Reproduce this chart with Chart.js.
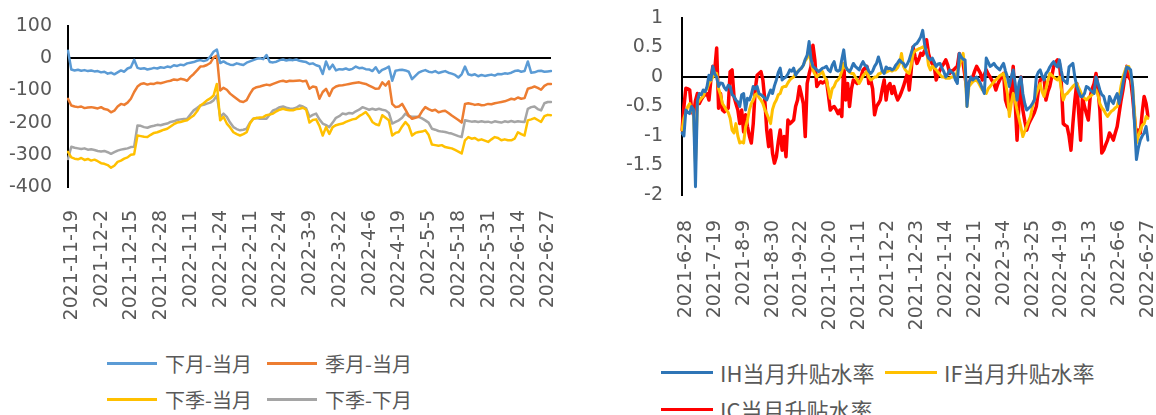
<!DOCTYPE html>
<html>
<head>
<meta charset="utf-8">
<script src="https://cdn.jsdelivr.net/npm/chart.js@4.4.1/dist/chart.umd.min.js"></script>
<style>
  body { margin: 0; width: 1156px; height: 415px; overflow: hidden; background: #fff; position: relative; }
  #left { position: absolute; left: 0; top: 0; }
  #right { position: absolute; left: 580px; top: 0; }
  .key { position: absolute; height: 30px; display: flex; align-items: center; color: #595959;
         white-space: nowrap; font-family: "Noto Sans CJK SC", sans-serif; }
  .key i { display: inline-block; height: 3px; }
</style>
</head>
<body>
<canvas id="left" width="600" height="330"></canvas>
<canvas id="right" width="576" height="330"></canvas>
<script>
// exchange holidays that fall on weekdays (used to build the trading-day categories)
const holidays = ['2021-9-20', '2021-9-21', '2021-10-1', '2021-10-4', '2021-10-5', '2021-10-6', '2021-10-7',
  '2022-1-3', '2022-1-31', '2022-2-1', '2022-2-2', '2022-2-3', '2022-2-4',
  '2022-4-4', '2022-4-5', '2022-5-2', '2022-5-3', '2022-5-4', '2022-6-3'];
// a day missing from the right-hand series
const missingDays = ['2021-11-1'];
const leftStart = '2021-11-19';
const rightStart = '2021-06-28';

// left chart: spreads
const nextMinusCur = [
  23, -35, -38, -36, -39, -37, -40, -38, -41, -40,
  -44, -42, -48, -45, -50, -44, -38, -42, -32, -28,
  -5, -30, -33, -31, -35, -33, -30, -32, -28, -30,
  -26, -28, -22, -24, -20, -22, -16, -14, -12, -8,
  -6, -9, -6, 5, 20, 27, -15, -10, -16, -20,
  -21, -16, -19, -21, -14, -10, -6, -2, 0, -3,
  10, -12, -13, -11, -6, -4, -7, -5, -6, -4,
  -8, -10, -12, -18, -16, -22, -25, -49, -10, -34,
  -20, -38, -34, -35, -32, -36, -33, -26, -31, -30,
  -34, -35, -40, -28, -45, -36, -32, -26, -70, -39,
  -37, -36, -38, -42, -65, -55, -45, -40, -37, -42,
  -44, -40, -46, -43, -40, -45, -48, -52, -60, -50,
  -26, -50, -53, -50, -56, -52, -55, -53, -51, -54,
  -49, -50, -47, -48, -45, -40, -38, -42, -40, -10,
  -45, -44, -40, -39, -42, -41, -40
];
const seasonMinusCur = [
  -126, -147, -150, -152, -150, -155, -153, -152, -154, -156,
  -152, -158, -160, -168, -163, -150, -142, -145, -138, -126,
  -105, -88, -80, -78, -82, -79, -80, -76, -78, -75,
  -72, -70, -66, -68, -64, -66, -70, -58, -49, -38,
  -26, -25, -21, -15, 2, 8, -100, -92, -98, -110,
  -118, -126, -134, -136, -130, -111, -95, -90, -88, -85,
  -82, -84, -80, -76, -72, -70, -73, -70, -71, -70,
  -69, -72, -70, -95, -88, -90, -126, -105, -95, -117,
  -95, -88, -85, -84, -82, -80, -78, -76, -75, -78,
  -80, -85, -90, -95, -94, -75, -85, -72, -142, -152,
  -150, -142, -160, -178, -188, -185, -182, -165, -152, -158,
  -163, -160, -168, -165, -163, -170, -178, -185, -192, -200,
  -142, -140, -142, -145, -143, -146, -145, -142, -143, -140,
  -138, -136, -134, -130, -126, -128, -122, -126, -124, -95,
  -92, -88, -92, -98, -86, -80, -80
];
const farMinusCur = [
  -291, -308, -312, -314, -310, -316, -313, -318, -315, -320,
  -326, -328, -332, -340, -334, -322, -318, -312, -308, -300,
  -298, -240, -242, -244, -245, -238, -232, -230, -226, -222,
  -219, -212, -205, -200, -198, -195, -193, -185, -178, -165,
  -147, -140, -131, -125, -116, -80, -193, -182, -203, -215,
  -230, -236, -240, -236, -230, -203, -188, -186, -184, -183,
  -177, -175, -172, -165, -160, -157, -160, -162, -162, -158,
  -157, -154, -160, -200, -192, -190, -210, -240, -214, -235,
  -214, -208, -205, -203, -198, -194, -190, -188, -180, -174,
  -167, -180, -198, -205, -208, -177, -185, -193, -240, -232,
  -229, -212, -198, -210, -240, -232, -229, -228, -224, -238,
  -268, -270, -272, -270, -276, -278, -280, -285, -290, -296,
  -255, -245, -250, -248, -255, -252, -256, -260, -252, -245,
  -248, -255, -252, -255, -255, -250, -230, -236, -240, -193,
  -190, -186, -192, -198, -180, -176, -177
];
const farMinusNext = [
  -313, -275, -278, -280, -282, -280, -284, -283, -285, -288,
  -290, -288, -292, -297, -292, -287, -284, -282, -280, -276,
  -275, -209, -210, -214, -216, -212, -210, -207, -208, -205,
  -203, -198, -196, -192, -190, -189, -188, -175, -162, -155,
  -147, -145, -141, -138, -131, -116, -182, -172, -182, -200,
  -214, -220, -224, -222, -219, -200, -188, -186, -188, -187,
  -188, -175, -162, -158, -152, -150, -154, -156, -157, -154,
  -147, -150, -156, -182, -176, -172, -190, -203, -208, -214,
  -200, -185, -180, -172, -174, -170, -172, -165, -160, -152,
  -156, -160, -157, -160, -157, -160, -162, -170, -203, -198,
  -193, -185, -172, -180, -182, -182, -182, -187, -193, -200,
  -219, -222, -226, -228, -229, -232, -234, -238, -242, -245,
  -193, -195, -197, -196, -198, -196, -198, -197, -200, -196,
  -198, -200, -196, -198, -195, -198, -196, -197, -198, -157,
  -152, -150, -158, -162, -140, -136, -136
];

// right chart: basis rates
const ihRate = [
  -0.95, -1.0, -0.56, -0.6, -0.62, -0.5, -0.55, -1.86, -0.4, -0.28,
  -0.3, -0.22, -0.25, -0.16, 0.03, -0.05, 0.18, 0.05, 0.0, -0.16,
  -0.1, -0.11, -0.18, -0.22, -0.14, -0.16, -0.3, -0.33, -0.39, -0.42,
  -0.5, -0.3, -0.28, -0.56, -0.36, -0.39, -0.3, -0.16, -0.2, -0.16,
  -0.28, -0.3, -0.33, -0.36, -0.39, -0.3, -0.22, -0.28, -0.15, -0.05,
  0.08, 0.15, -0.05, -0.02, 0.0, 0.05, 0.12, 0.1, 0.15, 0.03,
  0.08, 0.12, 0.15, 0.2, 0.3, 0.37, 0.6, 0.3, 0.18, 0.15,
  0.12, 0.09, 0.12, 0.15, 0.16, 0.18, 0.12, 0.09, 0.2, 0.26,
  0.12, 0.1, 0.12, 0.3, 0.46, 0.18, 0.12, 0.09, 0.15, 0.23,
  0.18, 0.15, 0.12, 0.2, 0.26, 0.2, 0.18, 0.1, 0.06, 0.1,
  0.18, 0.23, 0.34, 0.23, 0.1, 0.06, 0.17, 0.14, 0.15, 0.12,
  0.14, 0.2, 0.24, 0.29, 0.25, 0.23, 0.17, 0.22, 0.29, 0.4,
  0.51, 0.55, 0.57, 0.62, 0.68, 0.79, 0.55, 0.4, 0.32, 0.29,
  0.32, 0.25, 0.18, 0.22, 0.23, 0.15, 0.09, 0.0, 0.05, 0.12,
  0.08, 0.06, -0.05, -0.11, 0.4, 0.34, 0.3, 0.29, -0.5, -0.1,
  0.0, -0.05, -0.02, 0.0, -0.05, -0.11, -0.2, -0.28, 0.32, 0.25,
  0.18, 0.2, 0.23, 0.18, 0.15, 0.12, 0.18, 0.23, 0.1, 0.0,
  -0.16, 0.0, 0.12, -0.1, -0.39, -0.1, 0.0, -0.28, -0.45, -0.56,
  -0.53, -0.5, -0.45, -0.39, 0.0, 0.08, 0.12, 0.02, -0.05, 0.06,
  0.1, 0.17, 0.22, 0.26, 0.2, 0.17, 0.29, 0.1, -0.05, -0.08,
  -0.11, 0.17, 0.2, 0.23, 0.0, -0.16, -0.25, -0.33, -0.33, -0.28,
  -0.16, -0.18, -0.22, -0.25, -0.28, 0.0, -0.1, -0.22, -0.3, -0.33,
  -0.45, -0.56, -0.33, -0.4, -0.45, -0.35, -0.28, -0.45, -0.3, -0.11,
  0.05, 0.17, 0.15, 0.12, -0.16, -0.8, -1.4, -1.2, -1.07, -1.0,
  -0.95, -0.84, -1.07
];
const ifRate = [
  -0.9, -0.7, -0.6, -0.5, -0.45, -0.55, -0.62, -1.46, -0.45, -0.4,
  -0.36, -0.33, -0.25, -0.2, -0.11, -0.06, 0.0, 0.03, 0.06, -0.2,
  -0.3, -0.45, -0.5, -0.56, -0.6, -0.7, -0.9, -0.95, -0.79, -1.0,
  -1.12, -1.1, -1.12, -0.85, -0.73, -0.56, -0.45, -0.39, -0.3, -0.28,
  -0.35, -0.39, -0.45, -0.55, -0.62, -0.7, -0.79, -0.55, -0.45, -0.39,
  -0.3, -0.28, -0.18, -0.16, -0.16, -0.1, -0.05, -0.02, 0.0, 0.06,
  0.09, 0.12, 0.15, 0.2, 0.28, 0.32, 0.49, 0.25, 0.12, 0.05,
  0.0, 0.03, 0.06, 0.09, 0.0, -0.05, -0.2, -0.36, -0.2, -0.16,
  -0.08, -0.05, 0.0, 0.1, 0.23, 0.15, 0.12, 0.08, 0.06, 0.06,
  0.0, -0.05, -0.11, -0.05, 0.02, 0.06, 0.09, 0.0, -0.05, -0.03,
  0.0, 0.0, 0.05, 0.06, 0.09, 0.1, 0.08, 0.1, 0.12, 0.1,
  0.12, 0.12, 0.16, 0.23, 0.4, 0.18, 0.12, 0.08, 0.06, 0.2,
  0.4, 0.44, 0.46, 0.48, 0.49, 0.51, 0.48, 0.46, 0.2, 0.12,
  0.18, 0.15, 0.12, 0.08, 0.04, 0.0, 0.0, -0.02, -0.02, -0.02,
  0.0, 0.0, 0.0, 0.1, 0.18, 0.3, 0.4, 0.1, -0.5, -0.16,
  -0.12, -0.08, -0.06, -0.05, -0.1, -0.16, -0.22, -0.25, -0.28, -0.2,
  -0.16, -0.12, -0.08, -0.05, -0.02, 0.02, 0.04, 0.06, -0.1, -0.28,
  -0.67, -0.45, -0.28, -0.4, -0.56, -0.7, -0.85, -1.01, -0.92, -0.84,
  -0.75, -0.67, -0.5, -0.38, -0.28, -0.2, -0.11, -0.25, -0.33, -0.2,
  -0.05, 0.06, 0.03, 0.0, -0.03, -0.05, 0.0, -0.2, -0.39, -0.3,
  -0.28, -0.24, -0.2, -0.16, -0.13, -0.11, -0.18, -0.25, -0.33, -0.36,
  -0.39, -0.35, -0.33, -0.3, -0.26, -0.22, -0.3, -0.45, -0.52, -0.56,
  -0.62, -0.67, -0.62, -0.58, -0.56, -0.52, -0.5, -0.35, -0.15, 0.0,
  0.1, 0.18, 0.18, 0.05, -0.16, -0.6, -1.12, -1.0, -0.9, -0.82,
  -0.79, -0.67, -0.7
];
const icRate = [
  -0.9, -0.5, -0.19, -0.2, -0.22, -0.56, -0.64, -0.4, -0.28, -0.45,
  -0.38, -0.33, -0.3, -0.28, -0.39, -0.05, 0.18, 0.12, 0.49, -0.53,
  -0.28, -0.56, -0.59, -0.55, -0.53, 0.09, 0.12, -0.33, -0.45, -0.56,
  -0.79, -0.56, -0.93, -0.64, -0.84, -1.0, -1.12, -0.79, -0.22, 0.03,
  0.06, 0.09, -0.05, -0.39, -0.9, -1.18, -0.9, -1.29, -1.46, -1.35,
  -1.1, -0.9, -1.24, -1.01, -1.35, -0.73, -0.79, -0.76, -0.73, -0.5,
  -0.39, -0.16, -0.3, -0.45, -1.01, -0.11, 0.05, 0.18, 0.54, 0.29,
  -0.16, -0.11, -0.08, -0.1, -0.08, -0.05, -0.3, -0.56, -0.52, -0.5,
  -0.55, -0.62, -0.56, -0.67, 0.23, -0.39, -0.11, -0.5, -0.2, -0.05,
  -0.08, -0.11, -0.08, 0.0, 0.12, 0.15, 0.18, -0.11, -0.05, -0.2,
  -0.64, -0.5, -0.45, -0.39, -0.2, -0.05, -0.39, -0.16, -0.11, -0.28,
  -0.16, -0.3, -0.39, -0.33, -0.25, -0.16, -0.05, 0.06, -0.22, 0.1,
  0.51, 0.35, 0.23, 0.3, 0.4, 0.37, 0.45, 0.63, 0.4, 0.29,
  0.22, 0.18, -0.05, 0.05, 0.12, 0.18, 0.23, 0.29, 0.2, 0.06,
  0.1, 0.12, 0.15, 0.18, 0.4, 0.3, 0.23, 0.0, -0.22, -0.11,
  -0.05, 0.0, 0.1, 0.18, 0.12, 0.06, -0.05, 0.04, 0.12, 0.05,
  0.0, -0.06, -0.11, -0.22, -0.12, -0.05, 0.02, 0.06, -0.39, -0.5,
  -0.56, -0.2, 0.18, -0.4, -1.07, -0.45, 0.0, -0.56, -0.75, -0.9,
  -0.8, -0.73, -0.67, -0.6, -0.5, -0.25, -0.05, -0.02, 0.0, -0.39,
  -0.25, -0.16, 0.0, 0.18, 0.25, 0.29, 0.23, -0.11, -0.79, -0.82,
  -0.84, -1.0, -1.24, -0.79, -0.4, -0.11, -0.6, -1.07, -0.33, -0.5,
  -0.62, -0.73, -0.33, -0.2, -0.11, 0.06, -0.2, -0.56, -1.29, -1.24,
  -1.15, -1.07, -0.95, -1.0, -1.07, -0.95, -0.84, -0.62, -0.4, -0.22,
  0.0, 0.18, 0.0, -0.05, -0.33, -0.7, -1.01, -0.9, -0.95, -0.6,
  -0.33, -0.45, -0.67
];

const leftNames = ['下月-当月', '季月-当月', '下季-当月', '下季-下月'];
const rightNames = ['IH当月升贴水率', 'IF当月升贴水率', 'IC当月升贴水率'];
const leftColors = ['#5B9BD5', '#ED7D31', '#FFC000', '#A5A5A5'];
const rightColors = ['#2E75B6', '#FFC000', '#FF0000'];

function tradingDays(start, count, skip) {
  const out = [];
  const d = new Date(start + 'T00:00:00');
  while (out.length < count) {
    const s = d.getFullYear() + '-' + (d.getMonth() + 1) + '-' + d.getDate();
    const wd = d.getDay();
    if (wd !== 0 && wd !== 6 && !holidays.includes(s) && !skip.includes(s)) out.push(s);
    d.setDate(d.getDate() + 1);
  }
  return out;
}

const leftDates = tradingDays(leftStart, nextMinusCur.length, []);
const rightDates = tradingDays(rightStart, ihRate.length, missingDays);

const tickFont = { family: 'DejaVu Sans', size: 19 };

function makeOptions(o) {
  return {
    responsive: false,
    animation: false,
    layout: { padding: { top: o.top, right: o.right, bottom: 0, left: 0 } },
    plugins: { legend: { display: false }, tooltip: { enabled: false } },
    elements: { point: { radius: 0 }, line: { tension: 0, borderJoinStyle: 'round', borderCapStyle: 'round' } },
    scales: {
      x: {
        grid: { display: false },
        border: { display: false },
        afterFit: (s) => { s.height = o.xHeight; s.paddingLeft = 0; s.paddingRight = 0; },
        ticks: {
          autoSkip: false, minRotation: 90, maxRotation: 90,
          padding: o.xPad, labelOffset: 4, color: '#595959', font: tickFont,
          callback: function (v, i) { return i % o.every === 0 ? this.getLabelForValue(v) : null; }
        }
      },
      y: {
        min: o.min, max: o.max,
        afterFit: (s) => { s.width = o.yWidth; s.paddingTop = 0; s.paddingBottom = 0; },
        border: { display: true, color: '#000', width: 2 },
        grid: { drawTicks: false, lineWidth: 2, color: (c) => (c.tick && c.tick.value === 0 ? '#000' : 'rgba(0,0,0,0)') },
        ticks: {
          stepSize: o.step, padding: o.yPad, color: '#595959', font: tickFont,
          callback: (v) => String(Math.round(v * 10) / 10)
        }
      }
    }
  };
}

const leftChart = new Chart(document.getElementById('left'), {
  type: 'line',
  data: {
    labels: leftDates,
    datasets: [nextMinusCur, seasonMinusCur, farMinusCur, farMinusNext].map((d, i) => ({
      label: leftNames[i], data: d, borderColor: leftColors[i], backgroundColor: leftColors[i], borderWidth: 2.5
    }))
  },
  options: makeOptions({ top: 26, right: 49, xHeight: 143, xPad: 15, yWidth: 68, yPad: 16, min: -400, max: 100, step: 100, every: 9 })
});

const rightChart = new Chart(document.getElementById('right'), {
  type: 'line',
  data: {
    labels: rightDates,
    datasets: [ihRate, ifRate, icRate].map((d, i) => ({
      label: rightNames[i], data: d, borderColor: rightColors[i], backgroundColor: rightColors[i], borderWidth: i === 2 ? 3.5 : 3
    }))
  },
  options: makeOptions({ top: 18, right: 8, xHeight: 135, xPad: 17, yWidth: 102, yPad: 19, min: -2, max: 1, step: 0.5, every: 15 })
});

// legends, built from the chart datasets
function addLegend(chart, spots, lineW, gap, fontSize) {
  chart.data.datasets.forEach((ds, i) => {
    const el = document.createElement('div');
    el.className = 'key';
    el.style.left = spots[i][0] + 'px';
    el.style.top = (spots[i][1] - 15) + 'px';
    el.style.fontSize = fontSize + 'px';
    const sw = document.createElement('i');
    sw.style.width = lineW + 'px';
    sw.style.marginRight = gap + 'px';
    sw.style.background = ds.borderColor;
    el.appendChild(sw);
    el.appendChild(document.createTextNode(ds.label));
    document.body.appendChild(el);
  });
}
addLegend(leftChart, [[107, 363], [267, 363], [107, 399], [267, 399]], 50, 8, 20);
addLegend(rightChart, [[661, 372], [885, 372], [661, 409]], 52, 7, 22);
</script>
</body>
</html>
